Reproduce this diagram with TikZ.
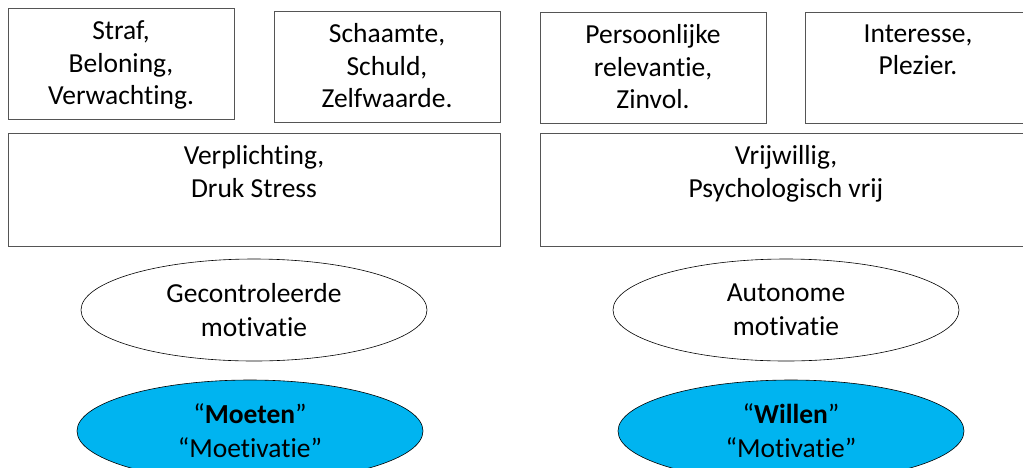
\documentclass[tikz,border=0pt]{standalone}
\usepackage{fontspec}
\setmainfont[Ligatures=NoCommon]{Carlito}
\usetikzlibrary{shapes.geometric}

\definecolor{lichtblauw}{HTML}{00B4F0}
\definecolor{randgrijs}{HTML}{555555}

\tikzset{
  vak/.style={draw=randgrijs, line width=0.8pt, minimum width=226, minimum height=111, inner sep=0pt},
  breedvak/.style={vak, minimum width=492, minimum height=113},
  vaktekst/.style={anchor=north, inner sep=0pt, align=center, font=\fontsize{27.5}{32.5}\selectfont},
  ovaal/.style={ellipse, draw=black, line width=0.6pt, minimum width=346, minimum height=102, inner sep=0pt, align=center, font=\fontsize{27.5}{34}\selectfont},
  blauwovaal/.style={ovaal, fill=lichtblauw}
}

\begin{document}
\begin{tikzpicture}[x=1pt, y=-1pt]
\useasboundingbox (0,0) rectangle (1023,467);
\clip (0,0) rectangle (1023,467);

% bovenste vakken
\node[vak] (straf) at (121,63.5) {};
\node[vaktekst] (straftxt) at ([yshift=-13]straf.north) {Straf,\\Beloning,\\Verwachting.};
\node[vak] (schaamte) at (387,66.5) {};
\node[vaktekst] (schaamtetxt) at ([yshift=-13]schaamte.north) {Schaamte,\\Schuld,\\Zelfwaarde.};
\node[vak] (relevant) at (653,67.5) {};
\node[vaktekst] (relevanttxt) at ([yshift=-13]relevant.north) {Persoonlijke\\relevantie,\\Zinvol.};
\node[vak] (interesse) at (918,67.5) {};
\node[vaktekst] (interessetxt) at ([yshift=-13]interesse.north) {Interesse,\\Plezier.};

% brede vakken
\node[breedvak] (plicht) at (254,189.5) {};
\node[vaktekst] (plichttxt) at ([yshift=-13]plicht.north) {Verplichting,\\Druk Stress};
\node[breedvak] (vrij) at (786,189.5) {};
\node[vaktekst] (vrijtxt) at ([yshift=-13]vrij.north) {Vrijwillig,\\Psychologisch vrij};

% ovalen
\node[ovaal] (gecontroleerd) at (254,310) {Gecontroleerde\\motivatie};
\node[ovaal] (autonoom) at (786,310) {Autonome\\motivatie};
\node[blauwovaal] (moeten) at (250,431) {``\textbf{Moeten}''\\``Moetivatie''};
\node[blauwovaal] (willen) at (791,431) {``\textbf{Willen}''\\``Motivatie''};
\end{tikzpicture}
\end{document}
